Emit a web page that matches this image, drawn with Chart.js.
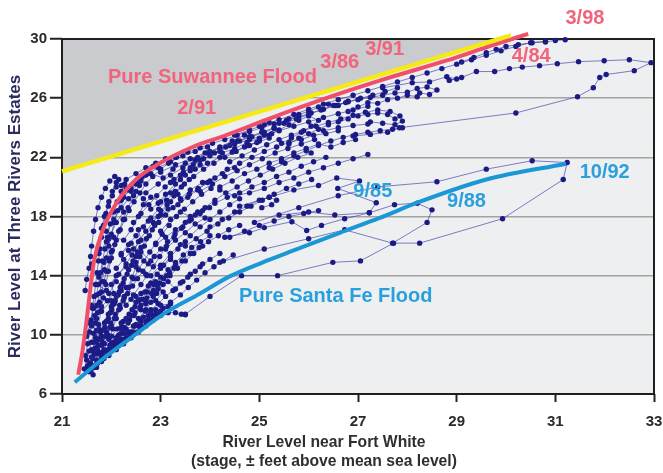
<!DOCTYPE html>
<html>
<head>
<meta charset="utf-8">
<script src="https://cdn.jsdelivr.net/npm/chart.js@4.4.1/dist/chart.umd.min.js"></script>
<style>
  html, body { margin: 0; padding: 0; background: #fff; }
  #wrap { width: 663px; height: 473px; position: relative; }
</style>
</head>
<body>
<div id="wrap"><canvas id="chart"></canvas></div>
<script>
// Axis ticks
const xTicks = [21, 23, 25, 27, 29, 31, 33];
const yTicks = [6, 10, 14, 18, 22, 26, 30];

// Reference curves [Fort White stage, Three Rivers stage]
const suwanneeCurve = [[21.33, 7.3], [21.42, 9.0], [21.5, 11.0], [21.57, 13.0], [21.65, 15.0], [21.83, 17.1], [22.1, 18.9], [22.5, 20.5], [22.98, 21.6], [23.65, 22.7], [24.33, 23.5], [25.15, 24.55], [26.4, 26.05], [27.6, 27.35], [28.8, 28.55], [29.7, 29.55], [30.45, 30.35]];
const santaFeCurve = [[21.26, 6.8], [21.8, 8.3], [22.44, 9.9], [23.1, 11.5], [23.8, 12.8], [24.4, 13.95], [25.07, 14.9], [25.75, 15.77], [26.63, 16.9], [27.44, 17.9], [28.2, 18.93], [29.6, 20.5], [31.22, 21.57]];
const limitLine = [[21.0, 21.05], [30.1, 30.25]];

// Observed daily stage pairs, one array per flood event
const ev01 = [[21.45, 7.7], [21.5, 8.3], [21.55, 8.9], [21.6, 9.5], [21.64, 10.1], [21.68, 10.8], [21.72, 11.5], [21.76, 12.2], [21.8, 12.9], [21.85, 13.6], [21.9, 14.3], [21.96, 15.0], [22.02, 15.7], [22.1, 16.4], [22.18, 17.1], [22.27, 17.8], [22.36, 18.4], [22.46, 19.0], [22.58, 19.6], [22.7, 20.2], [22.84, 20.7], [23.0, 21.2], [23.16, 21.6], [23.32, 22.0]];
const ev02 = [[21.5, 7.6], [21.58, 8.1], [21.66, 8.7], [21.73, 9.3], [21.8, 9.9], [21.87, 10.5], [21.94, 11.1], [22.01, 11.7], [22.08, 12.3], [22.16, 12.9], [22.24, 13.5], [22.32, 14.1], [22.41, 14.7], [22.5, 15.3], [22.6, 15.9], [22.71, 16.5], [22.83, 17.1], [22.96, 17.6], [23.1, 18.1], [23.25, 18.6], [23.41, 19.1], [23.58, 19.5], [23.76, 19.9], [23.95, 20.3]];
const ev03 = [[21.58, 7.6], [21.7, 8.0], [21.82, 8.5], [21.93, 9.0], [22.04, 9.5], [22.15, 10.0], [22.26, 10.5], [22.37, 11.0], [22.48, 11.5], [22.6, 12.0], [22.72, 12.5], [22.85, 13.0], [22.98, 13.5], [23.12, 14.0], [23.27, 14.5], [23.43, 15.0], [23.6, 15.5], [23.78, 15.9], [23.97, 16.3], [24.17, 16.7], [24.38, 17.1], [24.6, 17.4]];
const ev04 = [[21.63, 7.3], [21.65, 7.8], [21.8, 8.2], [21.95, 8.6], [22.1, 9.0], [22.25, 9.4], [22.4, 9.8], [22.55, 10.2], [22.7, 10.6], [22.85, 11.0], [23.0, 11.3], [23.15, 11.5], [23.3, 11.5], [23.42, 11.4], [23.5, 11.35]];
const ev05 = [[21.48, 8.6], [21.52, 9.4], [21.56, 10.2], [21.59, 11.0], [21.62, 11.8], [21.65, 12.6], [21.68, 13.4], [21.71, 14.2], [21.74, 15.0], [21.77, 15.8], [21.8, 16.6], [21.84, 17.4], [21.89, 18.2], [21.95, 19.0], [22.02, 19.7], [22.1, 20.3]];
const ev06 = [[21.55, 8.0], [21.62, 8.9], [21.68, 9.8], [21.74, 10.7], [21.79, 11.6], [21.84, 12.5], [21.89, 13.4], [21.94, 14.3], [22.0, 15.2], [22.07, 16.1], [22.15, 17.0], [22.24, 17.8], [22.34, 18.6], [22.45, 19.4], [22.57, 20.1], [22.7, 20.8], [22.85, 21.4]];
const ev07 = [[21.62, 8.4], [21.72, 9.0], [21.81, 9.6], [21.9, 10.2], [21.99, 10.8], [22.08, 11.4], [22.17, 12.0], [22.26, 12.6], [22.35, 13.2], [22.45, 13.8], [22.55, 14.4], [22.66, 15.0], [22.78, 15.6], [22.9, 16.2], [23.03, 16.8], [23.17, 17.4], [23.32, 18.0], [23.48, 18.5], [23.65, 19.0], [23.83, 19.5], [24.02, 19.9]];
const ev08 = [[21.7, 8.7], [21.8, 9.3], [21.88, 9.9], [21.97, 10.5], [22.06, 11.1], [22.15, 11.7], [22.24, 12.3], [22.33, 12.8], [22.43, 13.3], [22.53, 13.8], [22.64, 14.3], [22.75, 14.8], [22.87, 15.3], [23.0, 15.8], [23.14, 16.3], [23.29, 16.8], [23.45, 17.3], [23.62, 17.8], [23.8, 18.2], [23.99, 18.6]];
const ev09 = [[21.7, 7.8], [21.85, 8.4], [22.0, 8.9], [22.15, 9.4], [22.3, 9.8], [22.45, 10.2], [22.6, 10.6], [22.75, 11.0], [22.9, 11.4], [23.05, 11.8], [23.2, 12.2], [23.4, 12.7], [23.56, 13.2], [23.73, 13.7], [23.9, 14.2], [24.08, 14.6], [24.27, 15.0], [24.47, 15.4]];
const ev10 = [[21.85, 9.0], [21.95, 9.7], [22.03, 10.4], [22.1, 11.1], [22.18, 11.8], [22.26, 12.5], [22.34, 13.2], [22.42, 13.9], [22.5, 14.6], [22.58, 15.3], [22.67, 16.0], [22.77, 16.7], [22.88, 17.4], [23.0, 18.1], [23.13, 18.8], [23.27, 19.4], [23.42, 20.0], [23.58, 20.5]];
const ev11 = [[22.0, 9.9], [22.12, 10.4], [22.24, 10.9], [22.36, 11.4], [22.48, 11.9], [22.6, 12.4], [22.73, 12.9], [22.86, 13.4], [23.0, 13.9], [23.15, 14.4], [23.3, 14.9], [23.46, 15.4], [23.63, 15.9], [23.81, 16.3], [24.0, 16.7]];
const ev12 = [[21.6, 10.6], [21.66, 11.3], [21.71, 12.0], [21.76, 12.8], [21.81, 13.6], [21.86, 14.4], [21.9, 15.2], [21.95, 16.0], [22.0, 16.8], [22.06, 17.6], [22.13, 18.4], [22.21, 19.2], [22.3, 19.9]];
const ev13 = [[21.92, 8.9], [22.08, 9.3], [22.22, 9.7], [22.35, 10.1], [22.47, 10.6], [22.58, 11.0], [22.69, 11.6], [22.8, 12.2], [22.92, 12.8], [23.05, 13.4], [23.19, 14.0], [23.34, 14.5], [23.5, 15.0], [23.67, 15.5], [23.85, 16.0]];
const ev14 = [[21.47, 13.0], [21.5, 13.75], [21.55, 14.5], [21.58, 15.3], [21.6, 16.0], [21.64, 17.0], [21.68, 17.8], [21.73, 18.6], [21.8, 19.3], [21.88, 19.9], [21.97, 20.4], [22.07, 20.7], [22.15, 20.5], [22.1, 20.0], [22.02, 19.4], [21.94, 18.7], [21.86, 18.0], [21.8, 17.2]];
const ev15 = [[22.2, 15.5], [22.35, 16.1], [22.5, 16.7], [22.65, 17.3], [22.8, 17.9], [22.96, 18.5], [23.12, 19.1], [23.3, 19.7], [23.48, 20.2], [23.67, 20.7], [23.87, 21.2], [24.08, 21.6], [24.3, 22.0], [24.53, 22.4], [24.77, 22.8], [25.0, 23.1]];
const ev16 = [[22.45, 17.6], [22.6, 18.2], [22.76, 18.8], [22.92, 19.4], [23.09, 20.0], [23.27, 20.5], [23.46, 21.0], [23.66, 21.5], [23.87, 21.9], [24.09, 22.3], [24.32, 22.7], [24.56, 23.1], [24.8, 23.4], [25.05, 23.7], [25.3, 24.0]];
const ev17 = [[22.9, 16.1], [23.1, 16.6], [23.3, 17.1], [23.5, 17.6], [23.7, 18.1], [23.9, 18.6], [24.1, 19.1], [24.32, 19.6], [24.55, 20.0], [24.78, 20.4], [25.02, 20.8], [25.27, 21.2], [25.52, 21.6], [25.78, 22.0], [26.05, 22.3]];
const ev18 = [[23.5, 16.0], [23.72, 16.5], [23.94, 17.0], [24.16, 17.5], [24.38, 17.9], [24.6, 18.3], [24.83, 18.7], [25.06, 19.1], [25.3, 19.5], [25.55, 19.9], [25.8, 20.2], [26.06, 20.5]];
const ev19 = [[24.0, 17.3], [24.25, 17.8], [24.5, 18.3], [24.75, 18.7], [25.0, 19.1], [25.2, 19.3], [25.35, 19.1], [25.25, 18.8], [25.05, 18.6]];
const ev20 = [[22.3, 20.5], [22.5, 20.9], [22.7, 21.3], [22.9, 21.6], [23.1, 21.9]];
const ev21 = [[23.8, 19.7], [24.05, 20.2], [24.3, 20.7], [24.55, 21.1], [24.8, 21.5], [25.06, 21.9], [25.32, 22.3], [25.58, 22.6], [25.85, 22.9], [26.12, 23.2]];
const ev22 = [[24.4, 16.6], [24.7, 17.0], [25.0, 17.4], [25.3, 17.7], [25.6, 18.0], [25.9, 18.2], [26.2, 18.4]];
const ev23 = [[22.7, 19.6], [22.95, 20.2], [23.2, 20.8], [23.45, 21.3], [23.7, 21.8], [23.95, 22.3], [24.2, 22.7], [24.45, 23.1], [24.7, 23.5]];
const ev24 = [[23.3, 22.0], [23.55, 22.35], [23.8, 22.65], [24.05, 22.95], [24.3, 23.2], [24.55, 23.5], [24.8, 23.75], [25.05, 24.0], [25.3, 24.25], [25.55, 24.5], [25.8, 24.75], [26.05, 25.0], [26.3, 25.25], [26.55, 25.5], [26.8, 25.75], [27.05, 26.0], [27.3, 26.2], [27.55, 26.45], [27.8, 26.7]];
const ev25 = [[24.4, 21.7], [24.65, 22.1], [24.9, 22.5], [25.15, 22.85], [25.4, 23.2], [25.65, 23.5], [25.9, 23.8], [26.15, 24.1], [26.4, 24.35], [26.65, 24.6], [26.9, 24.85], [27.15, 25.05], [27.4, 25.2], [27.65, 25.1], [27.85, 24.8], [27.9, 24.45], [27.75, 24.2], [27.5, 24.3], [27.25, 24.4]];
const ev26 = [[25.2, 21.3], [25.45, 21.7], [25.7, 22.1], [25.95, 22.45], [26.2, 22.8], [26.45, 23.1], [26.7, 23.35], [26.95, 23.55], [27.2, 23.7], [27.45, 23.8], [27.7, 23.9], [27.9, 24.0]];
const ev27 = [[24.8, 22.8], [25.0, 23.15], [25.2, 23.5], [25.4, 23.85], [25.6, 24.2], [25.8, 24.5], [26.0, 24.8], [26.2, 24.5], [26.05, 24.1], [25.85, 23.7], [25.65, 23.3], [25.45, 22.95]];
const ev28 = [[25.5, 24.3], [25.75, 24.6], [26.0, 24.9], [26.25, 25.2], [26.5, 25.5], [26.75, 25.7], [27.0, 25.9], [27.25, 26.05], [27.5, 26.2], [27.75, 26.35], [28.0, 26.4], [28.2, 26.65], [28.4, 26.75], [28.6, 26.55], [28.45, 26.25], [28.25, 26.35]];
const ev29 = [[24.5, 23.5], [24.8, 23.85], [25.1, 24.2], [25.4, 24.55], [25.7, 24.9], [26.0, 25.25], [26.3, 25.6], [26.6, 25.9], [26.9, 26.2], [27.2, 26.5], [27.5, 26.8], [27.8, 27.1], [28.1, 27.4], [28.4, 27.7], [28.7, 28.0], [29.0, 28.3], [29.3, 28.6], [29.6, 28.9], [29.9, 29.2], [30.2, 29.5], [30.5, 29.75], [30.8, 29.85]];
const ev30 = [[23.7, 21.2], [23.95, 21.6], [24.2, 22.0], [24.45, 22.35], [24.7, 22.7], [24.95, 23.0], [25.2, 23.3]];
const ev31 = [[23.0, 21.0], [23.3, 21.5], [23.6, 21.9], [23.9, 22.3], [24.2, 22.6], [24.5, 22.9], [24.8, 23.2], [25.1, 23.5], [25.4, 23.8], [25.7, 24.1], [26.0, 24.4], [26.3, 24.7], [26.6, 24.95], [26.9, 25.2], [27.2, 25.45]];
const ev32 = [[26.3, 23.8], [26.6, 24.0], [26.9, 24.15], [27.2, 24.25]];
const ev33 = [[27.5, 26.7], [28.1, 27.05], [28.45, 27.1], [28.8, 27.45], [29.0, 27.3], [28.85, 27.2], [29.1, 27.4], [29.4, 27.8], [29.77, 27.8], [30.07, 28.0], [30.33, 28.1], [30.68, 28.2], [31.04, 28.33], [31.47, 28.47], [31.99, 28.53], [32.5, 28.6], [32.94, 28.4], [32.6, 27.86], [32.03, 27.6], [31.9, 27.4], [31.77, 26.7], [31.45, 26.1], [30.2, 25.0], [27.84, 24.0], [27.6, 23.7], [27.25, 23.55], [26.9, 23.45]];
const ev34 = [[29.1, 28.45], [29.35, 28.75], [29.6, 29.07], [29.8, 29.3], [30.0, 29.5], [30.25, 29.62], [30.53, 29.75], [30.8, 29.8], [31.0, 29.9], [31.2, 29.95]];
const ev35 = [[23.5, 11.4], [24.0, 12.6], [24.64, 14.0], [25.37, 14.0], [26.49, 14.9], [27.05, 15.0], [27.72, 16.2], [28.25, 16.2], [29.93, 17.85], [31.16, 20.5], [31.24, 21.65], [30.53, 21.77], [29.6, 21.2], [28.6, 20.35], [27.4, 20.0], [26.6, 19.4], [25.8, 18.6], [24.9, 17.6]];
const ev36 = [[24.2, 14.9], [25.1, 15.8], [26.0, 16.5], [26.73, 17.1], [27.7, 16.2], [28.4, 17.6], [28.5, 18.45], [28.2, 18.9], [27.74, 18.8], [27.23, 18.25], [26.73, 17.85], [26.26, 17.4], [25.96, 17.05], [25.66, 17.65], [25.1, 17.25], [24.8, 16.9], [24.3, 16.6]];
const ev37 = [[24.6, 18.7], [25.2, 19.3], [25.7, 19.8], [26.2, 20.1], [26.57, 20.6], [27.03, 20.4], [26.59, 19.9], [27.37, 18.93], [27.23, 18.25], [26.53, 18.1], [26.0, 18.3], [25.4, 18.1]];
const ev38 = [[21.52, 10.8], [21.7, 10.3], [21.9, 10.9], [22.0, 11.9], [21.95, 12.8], [22.1, 13.6], [22.3, 13.2], [22.5, 12.6], [22.7, 12.1], [22.9, 12.3], [23.05, 12.9], [22.9, 13.6], [22.7, 14.1], [22.5, 14.9], [22.35, 15.7]];
const ev39 = [[21.6, 12.0], [21.8, 11.6], [22.0, 12.3], [22.2, 13.0], [22.4, 12.4], [22.6, 11.7], [22.8, 11.5], [23.0, 11.4], [22.8, 11.0], [22.6, 10.5], [22.4, 9.9], [22.2, 9.5], [22.0, 9.0], [21.85, 8.6]];
const ev40 = [[21.7, 13.4], [21.9, 13.0], [22.1, 14.0], [22.3, 14.6], [22.2, 15.4], [22.4, 16.2], [22.6, 15.6], [22.8, 15.0], [23.0, 14.5], [23.2, 15.1], [23.1, 15.8], [23.3, 16.4], [23.5, 16.9], [23.7, 17.5], [23.9, 17.9]];
const ev41 = [[21.6, 14.8], [21.75, 15.5], [21.9, 16.3], [22.05, 16.6], [22.25, 16.4], [22.4, 17.1], [22.55, 18.0], [22.65, 18.8], [22.8, 19.3], [23.0, 19.0], [23.2, 19.6], [23.4, 20.5], [23.6, 21.1], [23.8, 21.5]];
const ev42 = [[21.75, 13.9], [21.85, 14.9], [22.0, 15.6], [21.95, 16.5], [22.1, 17.6], [22.25, 18.3], [22.2, 19.1], [22.35, 19.8], [22.5, 20.2], [22.62, 20.7]];
const ev43 = [[21.8, 8.5], [21.95, 8.9], [22.1, 9.5], [22.25, 10.1], [22.2, 10.8], [22.4, 11.3], [22.55, 11.1], [22.7, 11.7], [22.65, 12.4], [22.85, 12.6], [23.0, 12.0], [23.2, 12.1]];
const ev44 = [[22.5, 12.2], [22.6, 12.8], [22.75, 13.3], [22.95, 13.1], [23.15, 13.6], [23.3, 13.1], [23.45, 13.6], [23.6, 14.1], [23.8, 14.6], [24.0, 15.1], [24.2, 15.5]];
const ev45 = [[21.65, 9.5], [21.75, 10.4], [21.7, 11.1], [21.8, 11.9], [21.92, 12.3], [22.05, 12.8], [22.0, 13.4], [22.15, 14.1], [22.3, 14.8], [22.42, 15.4], [22.55, 16.3], [22.7, 17.0], [22.85, 17.6], [23.0, 18.4], [23.2, 19.0], [23.35, 19.5]];
const ev46 = [[22.1, 14.5], [22.25, 15.1], [22.45, 15.8], [22.6, 16.4], [22.55, 17.1], [22.75, 17.7], [22.95, 18.0], [23.15, 18.5], [23.35, 18.8], [23.55, 19.3], [23.75, 19.8], [24.0, 20.4], [24.25, 20.9], [24.5, 21.3]];
const ev47 = [[23.0, 17.0], [23.2, 17.8], [23.4, 18.3], [23.6, 18.0], [23.85, 18.4], [24.1, 18.9], [24.35, 19.3], [24.6, 19.6], [24.85, 20.0], [25.1, 20.3], [25.35, 20.7], [25.6, 21.0], [25.85, 21.4], [26.1, 21.7], [26.35, 22.0]];
const ev48 = [[22.2, 20.1], [22.4, 19.7], [22.6, 20.4], [22.8, 20.9], [23.05, 20.6], [23.25, 21.2], [23.5, 21.6], [23.75, 22.0], [24.0, 22.4], [24.25, 22.3], [24.5, 22.6], [24.75, 23.0], [25.0, 23.3], [25.25, 23.6]];
const ev49 = [[23.4, 19.2], [23.6, 19.8], [23.85, 20.3], [24.1, 20.6], [24.35, 21.2], [24.6, 21.6], [24.85, 22.0], [25.1, 22.4], [25.35, 22.7], [25.6, 23.0], [25.85, 23.2], [26.1, 23.5], [26.35, 23.6], [26.6, 23.8]];
const ev50 = [[24.2, 20.0], [24.45, 20.4], [24.7, 20.9], [24.95, 21.2], [25.2, 21.6], [25.45, 21.9], [25.7, 22.3], [25.95, 22.6], [26.2, 22.9], [26.45, 22.7], [26.7, 23.0], [26.95, 23.2]];
const ev51 = [[25.6, 22.9], [25.8, 23.3], [26.0, 23.6], [26.2, 23.9], [26.4, 24.2], [26.6, 24.4], [26.8, 24.6], [27.0, 24.8], [27.2, 24.9], [27.4, 25.0], [27.6, 24.9], [27.75, 24.6]];
const ev52 = [[26.8, 25.1], [27.0, 25.4], [27.2, 25.7], [27.4, 25.65], [27.6, 25.9], [27.8, 26.0], [28.0, 26.2], [28.2, 26.1]];
const ev53 = [[25.0, 24.1], [25.2, 24.35], [25.4, 24.3], [25.6, 24.6], [25.8, 24.9], [26.0, 25.1], [26.2, 25.4], [26.4, 25.6], [26.6, 25.5], [26.8, 25.8]];
const ev54 = [[23.2, 20.3], [23.4, 20.8], [23.6, 21.3], [23.8, 21.8], [24.0, 22.1], [24.2, 22.4], [24.4, 22.8], [24.6, 23.1], [24.85, 23.4], [25.1, 23.7], [25.3, 23.95]];
const ev55 = [[22.35, 10.2], [22.5, 10.7], [22.65, 11.2], [22.8, 11.7], [22.95, 12.1], [23.1, 12.6], [23.25, 13.0], [23.4, 13.5], [23.55, 13.9], [23.7, 14.3], [23.85, 14.8]];
const ev56 = [[21.72, 8.1], [21.84, 8.7], [21.97, 9.3], [22.1, 9.8], [22.22, 10.3], [22.34, 10.8], [22.46, 11.3], [22.58, 11.8], [22.7, 12.3], [22.82, 12.8], [22.94, 13.3], [23.06, 13.8], [23.18, 14.2], [23.3, 14.7]];
const ev57 = [[21.5, 9.9], [21.58, 10.9], [21.64, 11.8], [21.7, 12.7], [21.74, 13.4], [21.78, 14.2], [21.82, 15.0], [21.87, 15.8], [21.92, 16.6], [21.98, 17.5], [22.05, 18.3], [22.12, 19.0], [22.2, 19.7], [22.27, 20.2]];
const ev58 = [[21.55, 7.5], [21.62, 7.9], [21.7, 8.3], [21.78, 8.8], [21.86, 9.4], [21.93, 10.0], [22.0, 10.6]];
const ev59 = [[22.0, 9.2], [22.2, 9.7], [22.4, 10.2], [22.55, 10.6], [22.7, 10.9], [22.85, 11.3], [23.0, 11.6], [23.15, 11.9]];
const ev60 = [[24.2, 19.8], [24.5, 19.4], [24.8, 19.6], [25.1, 19.9], [25.4, 20.3], [25.7, 20.6], [26.0, 21.0], [26.3, 21.3], [26.6, 21.6], [26.9, 21.9], [27.2, 22.2]];
const ev61 = [[21.52, 7.9], [21.6, 8.5], [21.67, 9.1], [21.74, 9.7], [21.82, 10.3], [21.9, 10.9], [21.98, 11.5], [22.06, 12.1], [22.14, 12.7], [22.2, 13.3]];
const ev62 = [[21.8, 8.6], [21.9, 8.9], [22.0, 9.4], [22.1, 9.7], [22.2, 10.1], [22.3, 10.4], [22.45, 10.6], [22.6, 10.9], [22.75, 11.3], [22.9, 11.7]];
const ev63 = [[22.25, 19.3], [22.4, 19.9], [22.55, 20.4], [22.75, 20.9], [22.95, 21.3], [23.2, 21.7], [23.45, 22.1], [23.7, 22.4], [23.95, 22.7]];
const ev64 = [[21.6, 9.0], [21.7, 9.6], [21.78, 10.2], [21.86, 10.8], [21.94, 11.4], [22.02, 12.0], [22.1, 12.6], [22.18, 13.2], [22.26, 13.8], [22.35, 14.4], [22.44, 15.0], [22.53, 15.6]];
const ev65 = [[22.2, 10.5], [22.3, 11.1], [22.42, 11.7], [22.55, 12.3], [22.68, 12.9], [22.8, 13.5], [22.93, 14.1], [23.06, 14.7], [23.2, 15.3], [23.35, 15.8], [23.5, 16.3]];
const ev66 = [[22.3, 12.0], [22.45, 12.7], [22.6, 13.4], [22.72, 14.0], [22.85, 14.6], [22.98, 15.3], [23.12, 16.0], [23.27, 16.6], [23.42, 17.2], [23.58, 17.7], [23.75, 18.3]];
const ev67 = [[22.8, 14.0], [23.0, 14.7], [23.2, 15.5], [23.4, 16.1], [23.6, 16.7], [23.8, 17.3], [24.0, 17.8], [24.2, 18.3], [24.4, 18.8], [24.6, 19.2]];
const ev68 = [[21.9, 17.0], [22.05, 17.8], [22.2, 18.6], [22.35, 19.2], [22.5, 19.7], [22.65, 19.2], [22.8, 18.5], [22.95, 18.9], [23.1, 19.5], [23.3, 20.2], [23.5, 20.8]];
const events = [ev01, ev02, ev03, ev04, ev05, ev06, ev07, ev08, ev09, ev10, ev11, ev12, ev13, ev14, ev15, ev16, ev17, ev18, ev19, ev20,
  ev21, ev22, ev23, ev24, ev25, ev26, ev27, ev28, ev29, ev30, ev31, ev32, ev33, ev34, ev35, ev36, ev37, ev38, ev39, ev40,
  ev41, ev42, ev43, ev44, ev45, ev46, ev47, ev48, ev49, ev50, ev51, ev52, ev53, ev54, ev55, ev56, ev57, ev58, ev59, ev60,
  ev61, ev62, ev63, ev64, ev65, ev66, ev67, ev68];

const RED = '#f04f69';
const RED_TEXT = '#f2647b';
const BLUE = '#1b97d6';
const BLUE_TEXT = '#29a0db';
const FONT = "'Liberation Sans', Arial, sans-serif";

const notes = [
  { text: 'Pure Suwannee Flood', x: 24.05, y: 27.4, color: RED_TEXT },
  { text: '2/91', x: 23.73, y: 25.3, color: RED_TEXT },
  { text: '3/86', x: 26.63, y: 28.4, color: RED_TEXT },
  { text: '3/91', x: 27.54, y: 29.28, color: RED_TEXT },
  { text: '3/98', x: 31.6, y: 31.4, color: RED_TEXT },
  { text: '4/84', x: 30.51, y: 28.8, color: RED_TEXT },
  { text: '9/85', x: 27.3, y: 19.67, color: BLUE_TEXT },
  { text: '9/88', x: 29.2, y: 19.0, color: BLUE_TEXT },
  { text: '10/92', x: 32.0, y: 20.97, color: BLUE_TEXT },
  { text: 'Pure Santa Fe Flood', x: 26.55, y: 12.6, color: BLUE_TEXT },
];
const xTitle = ['River Level near Fort White', '(stage, \u00b1 feet above mean sea level)'];
const yTitle = 'River Level at Three Rivers Estates';

const toPts = (arr) => arr.map(([x, y]) => ({ x, y }));

const curveSets = [
  {
    data: toPts(limitLine),
    borderColor: '#f6ea16',
    borderWidth: 4.5,
    pointRadius: 0,
    showLine: true,
    fill: 'end',
    backgroundColor: '#c9cbcf',
    clip: false,
  },
  {
    data: toPts(suwanneeCurve),
    borderColor: RED,
    borderWidth: 4,
    pointRadius: 0,
    showLine: true,
    cubicInterpolationMode: 'monotone',
    clip: false,
  },
  {
    data: toPts(santaFeCurve),
    borderColor: BLUE,
    borderWidth: 4,
    pointRadius: 0,
    showLine: true,
    cubicInterpolationMode: 'monotone',
    clip: false,
  },
];

const eventSets = events.map((ev) => ({
  data: toPts(ev),
  showLine: true,
  borderColor: 'rgba(45, 45, 160, 0.6)',
  borderWidth: 1,
  pointRadius: 2.7,
  pointBorderWidth: 0,
  pointBackgroundColor: '#1b1b86',
  clip: false,
}));

const frame = {
  id: 'frame',
  beforeDraw(chart) {
    const { ctx, chartArea: a } = chart;
    ctx.save();
    ctx.fillStyle = '#eeeff1';
    ctx.fillRect(a.left, a.top, a.width, a.height);
    ctx.restore();
  },
  beforeDatasetsDraw(chart) {
    const { ctx, chartArea: a } = chart;
    ctx.save();
    ctx.strokeStyle = '#1f1f1f';
    ctx.lineWidth = 2;
    ctx.strokeRect(a.left, a.top, a.width, a.height);
    ctx.restore();
  },
  afterDatasetsDraw(chart) {
    const { ctx, scales } = chart;
    ctx.save();
    ctx.textAlign = 'center';
    ctx.textBaseline = 'middle';
    ctx.font = `bold 20px ${FONT}`;
    for (const n of notes) {
      ctx.fillStyle = n.color;
      ctx.fillText(n.text, scales.x.getPixelForValue(n.x), scales.y.getPixelForValue(n.y));
    }
    ctx.font = `bold 15.7px ${FONT}`;
    ctx.fillStyle = '#2e2e2e';
    ctx.fillText(xTitle[0], 324, 443);
    ctx.fillText(xTitle[1], 324, 462);
    ctx.restore();
  },
};

new Chart(document.getElementById('chart'), {
  type: 'scatter',
  data: { datasets: [...curveSets, ...eventSets] },
  options: {
    responsive: true,
    maintainAspectRatio: false,
    animation: false,
    layout: { padding: { top: 39, right: 9, left: 0, bottom: 0 } },
    plugins: {
      legend: { display: false },
      tooltip: { enabled: false },
      filler: { drawTime: 'beforeDatasetsDraw' },
    },
    scales: {
      x: {
        type: 'linear',
        min: 21,
        max: 33,
        afterFit: (s) => { s.height = 79; s.paddingLeft = 0; s.paddingRight = 0; },
        afterBuildTicks: (s) => { s.ticks = xTicks.map((v) => ({ value: v })); },
        border: { display: false },
        grid: { drawOnChartArea: false, drawTicks: true, tickLength: 8, tickColor: '#222', tickWidth: 2 },
        ticks: { color: '#2a2a2a', font: { family: FONT, size: 15, weight: 'bold' }, padding: 11, maxRotation: 0 },
      },
      y: {
        type: 'linear',
        min: 6,
        max: 30,
        afterFit: (s) => { s.width = 62; s.paddingTop = 0; s.paddingBottom = 0; },
        afterBuildTicks: (s) => { s.ticks = yTicks.map((v) => ({ value: v })); },
        border: { display: false },
        grid: { color: '#a3a3a3', lineWidth: 1.5, drawTicks: true, tickLength: 12, tickColor: '#222', tickWidth: 2 },
        ticks: { color: '#2a2a2a', font: { family: FONT, size: 15, weight: 'bold' }, padding: 3 },
        title: { display: true, text: yTitle, color: '#2b2b60', font: { family: FONT, size: 17, weight: 'bold' }, padding: { top: 5, bottom: 0 } },
      },
    },
  },
  plugins: [frame],
});
</script>
</body>
</html>
